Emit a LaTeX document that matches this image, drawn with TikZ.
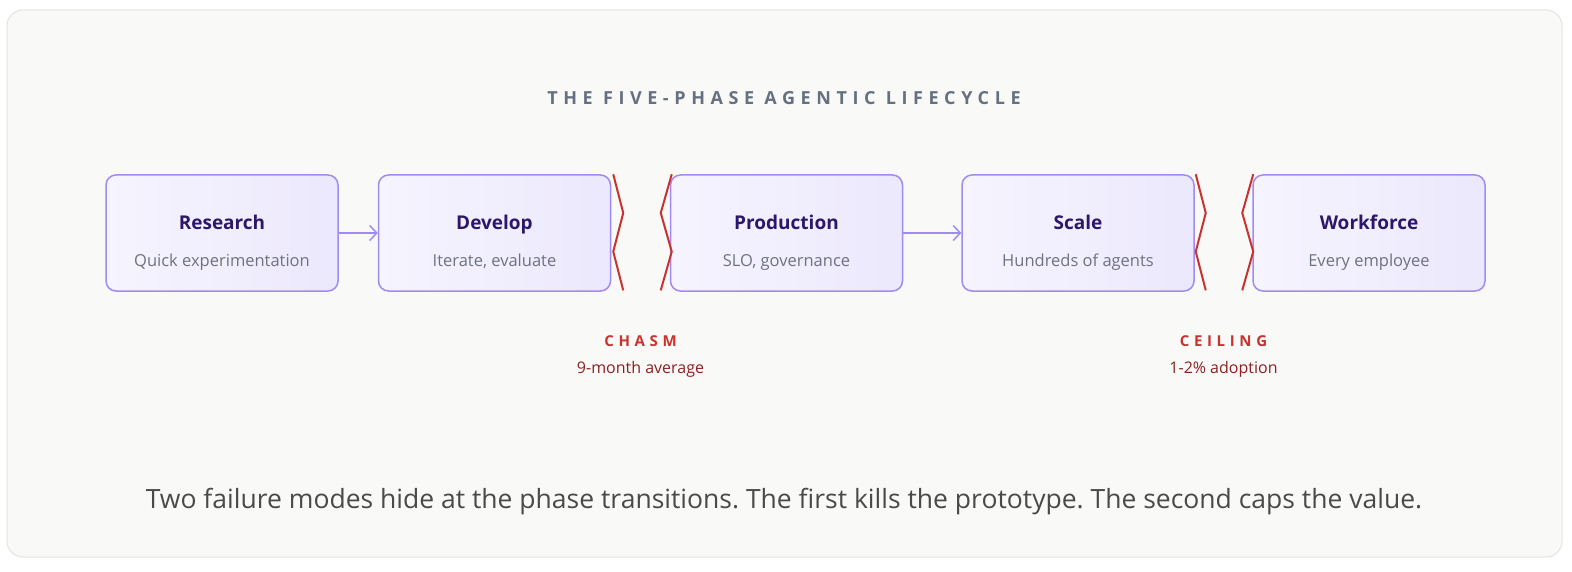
\documentclass[tikz,border=0pt]{standalone}
\usepackage{fontspec}
\setmainfont{Open Sans}
\newfontfamily\spacedfont[LetterSpace=31]{Open Sans}
\usetikzlibrary{positioning,calc,arrows.meta}

\definecolor{framebg}{HTML}{F9F9F7}
\definecolor{frameline}{HTML}{E4E4E2}
\definecolor{boxline}{HTML}{A28BF0}
\definecolor{boxlight}{HTML}{F6F4FE}
\definecolor{boxdark}{HTML}{ECE8FD}
\definecolor{phaseink}{HTML}{2B1868}
\definecolor{subink}{HTML}{6E7280}
\definecolor{titleink}{HTML}{667080}
\definecolor{gapred}{HTML}{C8332F}
\definecolor{gapink}{HTML}{8A2222}
\definecolor{noteink}{HTML}{4A4A4A}

\tikzset{
  phase/.style={draw=boxline, line width=1.5pt, rounded corners=10pt,
    left color=boxlight, right color=boxdark,
    minimum width=232pt, minimum height=116pt, inner sep=0pt},
  phasetitle/.style={text=phaseink, inner sep=0pt, anchor=base,
    font=\fontsize{19}{21}\selectfont\bfseries},
  phasesub/.style={text=subink, inner sep=0pt, anchor=base,
    font=\fontsize{16.5}{18}\selectfont},
  flow/.style={draw=boxline, line width=1.5pt,
    -{Straight Barb[length=7pt,width=15pt,line width=1.5pt]}},
  crack/.style={draw=gapred, line width=2pt},
  gaptitle/.style={text=gapred, inner sep=0pt, anchor=base,
    font=\fontsize{15}{17}\spacedfont\bfseries},
  gapnote/.style={text=gapink, inner sep=0pt, anchor=base,
    font=\fontsize{16}{18}\selectfont}
}

\begin{document}
\frenchspacing
\begin{tikzpicture}[x=1pt, y=-1pt]
  \useasboundingbox (0,0) rectangle (1572,572);
  \fill[white] (0,0) rectangle (1572,572);
  \draw[frameline, fill=framebg, line width=1pt, rounded corners=16pt] (7,10) rectangle (1562,557);

  % heading
  \node[text=titleink, inner sep=0pt, anchor=base,
    font=\fontsize{18}{20}\spacedfont\bfseries] (heading) at (784,105) {THE FIVE-PHASE AGENTIC LIFECYCLE};

  % the five phases
  \node[phase] (research) at (222,233) {};
  \node[phase, right=39pt of research] (develop) {};
  \node[phase, right=58.5pt of develop] (production) {};
  \node[phase, right=58pt of production] (scale) {};
  \node[phase, right=57.5pt of scale] (workforce) {};

  \foreach \n/\t/\s in {research/Research/Quick experimentation,
      develop/Develop/{Iterate, evaluate},
      production/Production/{SLO, governance},
      scale/Scale/Hundreds of agents,
      workforce/Workforce/Every employee} {
    \node[phasetitle] (\n-title) at ([yshift=3pt]\n.center) {\t};
    \node[phasesub] (\n-sub) at ([yshift=-33pt]\n.center) {\s};
  }

  \draw[flow] (research) -- (develop);
  \draw[flow] (production) -- (scale);

  % the two breaks
  \draw[crack] ([xshift=2pt]develop.north east) -- ++(10,38.7) -- ++(-10,38.7) -- ++(10,38.7);
  \draw[crack] ([xshift=2pt]production.north west) -- ++(-11,38.7) -- ++(11,38.7) -- ++(-11,38.7);
  \draw[crack] ([xshift=1pt]scale.north east) -- ++(10,38.7) -- ++(-10,38.7) -- ++(10,38.7);
  \draw[crack] ([xshift=1pt]workforce.north west) -- ++(-11,38.7) -- ++(11,38.7) -- ++(-11,38.7);

  \coordinate (chasm) at ($(develop.east)!0.5!(production.west)$);
  \coordinate (ceiling) at ($(scale.east)!0.5!(workforce.west)$);
  \node[gaptitle] (chasm-title) at ([yshift=-113pt]chasm) {CHASM};
  \node[gapnote] (chasm-note) at ([yshift=-140pt]chasm) {9-month average};
  \node[gaptitle] (ceiling-title) at ([yshift=-113pt]ceiling) {CEILING};
  \node[gapnote] (ceiling-note) at ([yshift=-140pt]ceiling) {1-2\% adoption};

  % caption
  \node[text=noteink, inner sep=0pt, anchor=base,
    font=\fontsize{26.5}{30}\selectfont] (caption) at (784,508)
    {Two failure modes hide at the phase transitions. The first kills the prototype. The second caps the value.};
\end{tikzpicture}
\end{document}
